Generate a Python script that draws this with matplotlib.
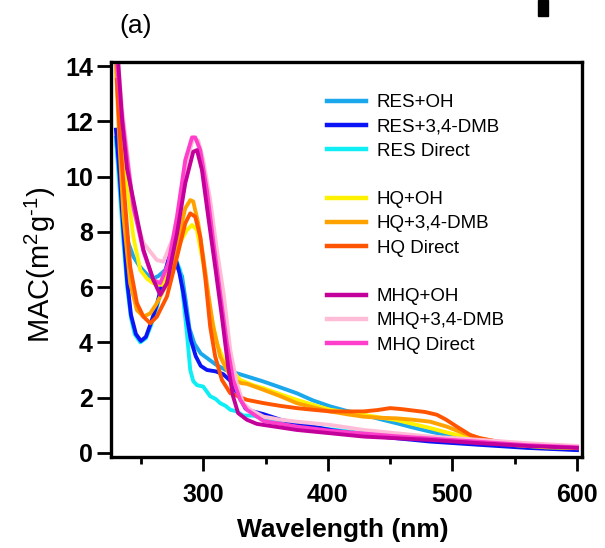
import matplotlib
matplotlib.use('Agg')
import matplotlib.pyplot as plt
from matplotlib.patches import Rectangle
from matplotlib.lines import Line2D

plt.rcParams['font.family'] = ['Liberation Sans', 'DejaVu Sans']
plt.rcParams['mathtext.fontset'] = 'custom'
plt.rcParams['mathtext.rm'] = 'Liberation Sans'
plt.rcParams['mathtext.it'] = 'Liberation Sans:italic'
plt.rcParams['mathtext.bf'] = 'Liberation Sans:bold'

labels = ['RES+OH', 'RES+3,4-DMB', 'RES Direct',
          'HQ+OH', 'HQ+3,4-DMB', 'HQ Direct',
          'MHQ+OH', 'MHQ+3,4-DMB', 'MHQ Direct']
colors = ['#1AA7EC', '#0A14F5', '#10EEF5',
          '#FFF200', '#FFA200', '#FF5500',
          '#C4009B', '#FFBCD6', '#FF3FCB']

res_oh_x = [230, 233, 236, 240, 244, 249, 254, 259, 264, 269, 274, 279, 283, 286, 289, 293, 298, 304, 310, 318,
            327, 340, 348.5, 360, 375, 388, 402, 415, 428.6, 442, 455.4, 468, 482, 495, 509, 522, 536, 550, 575, 600]
res_oh_y = [11.4, 9.9, 8.7, 7.6, 7.1, 6.75, 6.5, 6.3, 6.4, 6.6, 6.85, 6.75, 6.4, 5.5, 4.5, 3.95, 3.6, 3.4, 3.2, 3.0,
            2.88, 2.7, 2.58, 2.4, 2.16, 1.9, 1.68, 1.52, 1.38, 1.22, 1.07, 0.92, 0.77, 0.65, 0.53, 0.41, 0.32, 0.25, 0.18, 0.15]

res_dmb_x = [230, 233, 236, 239, 242, 246, 250, 254, 258, 263, 268, 272, 275, 278, 281, 284, 287, 290, 294, 298,
             303, 310, 316, 322, 328, 334, 340, 348.5, 362, 375, 388, 402, 415, 428.6, 455, 482, 522, 560, 600]
res_dmb_y = [11.7, 10.0, 8.0, 6.2, 5.0, 4.3, 4.05, 4.2, 4.7, 5.4, 6.3, 7.0, 7.35, 7.0, 6.5, 5.8, 4.9, 4.1, 3.5, 3.15,
             3.0, 2.95, 2.85, 2.6, 2.1, 1.6, 1.5, 1.4, 1.2, 1.07, 0.95, 0.83, 0.74, 0.65, 0.53, 0.41, 0.29, 0.18, 0.1]

res_dir_x = [230, 233, 236, 239, 242, 245, 249.5, 254, 258, 263, 268, 272, 275, 278, 281.6, 284, 287, 289.6, 292, 295,
             300, 305.6, 310, 313.6, 318, 321.7, 327, 332, 340, 348.5, 362, 375, 402, 428, 455, 482, 500, 522, 560, 600]
res_dir_y = [11.4, 9.5, 7.6, 6.0, 4.9, 4.3, 4.0, 4.15, 4.6, 5.3, 6.2, 6.9, 7.25, 7.0, 6.6, 5.6, 4.3, 3.0, 2.6, 2.45,
             2.4, 2.05, 1.95, 1.8, 1.7, 1.56, 1.5, 1.35, 1.35, 1.25, 1.1, 1.01, 0.85, 0.72, 0.62, 0.55, 0.5, 0.35, 0.2, 0.12]

hq_oh_x = [230.7, 234, 238.8, 244, 249.5, 255, 260, 266.8, 273, 279, 283, 287, 291, 295, 300, 305.6, 311, 316.3, 321.7,
           329.7, 340, 348.5, 362, 375, 388, 402, 415, 428.6, 442, 455, 468, 482, 492, 503.5, 512, 522, 550, 575, 600]
hq_oh_y = [14.0, 11.6, 9.76, 7.8, 6.62, 6.3, 6.14, 6.08, 6.6, 7.35, 7.75, 8.07, 8.25, 8.07, 6.86, 5.17, 3.97, 3.37, 3.06,
           2.64, 2.45, 2.34, 2.12, 1.92, 1.74, 1.56, 1.47, 1.38, 1.28, 1.19, 1.05, 0.9, 0.78, 0.65, 0.55, 0.47, 0.28, 0.2, 0.17]

hq_dmb_x = [230, 233, 236, 241.4, 246.8, 252, 257.5, 262.8, 270.9, 279, 285.6, 289.6, 292, 296, 300, 304, 308, 313.6,
            319, 324, 331, 335, 348.5, 362, 375, 388, 402, 415, 428.6, 442, 455, 468, 482, 495.5, 509, 522, 536, 550, 575, 600]
hq_dmb_y = [14.0, 11.0, 8.55, 6.14, 5.17, 4.93, 5.05, 5.42, 6.14, 7.59, 8.85, 9.15, 9.1, 8.31, 7.1, 5.78, 4.57, 3.49,
            3.0, 2.64, 2.52, 2.5, 2.28, 2.05, 1.8, 1.65, 1.5, 1.4, 1.31, 1.27, 1.25, 1.2, 1.13, 0.95, 0.71, 0.53, 0.4, 0.33, 0.24, 0.18]

hq_dir_x = [230.7, 233, 236, 241.4, 246.8, 252, 257.5, 262.8, 270.9, 279, 285.6, 289.6, 293.6, 297.6, 301.6, 305.6, 309.6,
            315, 321.7, 335, 348.5, 362, 375, 388, 402, 415, 428.6, 440, 450, 460, 468.8, 478, 487.5, 495, 503.5, 514.2,
            522, 535, 550, 575, 600]
hq_dir_y = [13.5, 11.6, 9.76, 6.74, 5.42, 4.93, 4.69, 4.93, 5.66, 7.1, 8.31, 8.67, 8.55, 7.83, 6.38, 4.57, 3.49,
            2.64, 2.16, 1.92, 1.8, 1.7, 1.62, 1.56, 1.5, 1.5, 1.5, 1.55, 1.62, 1.58, 1.53, 1.48, 1.38, 1.2, 0.95, 0.65,
            0.53, 0.42, 0.33, 0.25, 0.2]

mhq_oh_x = [232, 235, 238.8, 244, 252, 260, 265.5, 270.9, 279, 285.6, 292, 295, 299, 304, 309.6, 315, 320, 324, 328,
            335, 343, 348.5, 362, 375, 402, 428.6, 455, 482, 522, 560, 600]
mhq_oh_y = [14.0, 12.0, 10.3, 9.15, 7.35, 6.26, 5.72, 6.14, 7.95, 9.76, 10.9, 10.96, 10.24, 8.56, 6.74, 4.93, 3.12, 2.04,
            1.44, 1.2, 1.05, 1.01, 0.92, 0.83, 0.71, 0.59, 0.53, 0.47, 0.35, 0.25, 0.18]

mhq_dmb_x = [232, 235, 238.8, 244, 252, 262.8, 268, 276, 281.6, 287, 292, 296, 300, 305.6, 311, 316.3, 321.7, 327, 332,
             337.7, 348.5, 362, 375, 402, 428.6, 455, 482, 522, 560, 600]
mhq_dmb_y = [14.0, 12.4, 10.96, 8.8, 7.6, 6.98, 6.92, 7.8, 9.2, 10.6, 11.4, 11.3, 10.6, 9.15, 7.35, 5.78, 3.73, 2.52, 1.8,
             1.56, 1.31, 1.2, 1.13, 1.01, 0.83, 0.71, 0.59, 0.47, 0.35, 0.25]

mhq_dir_x = [231, 234, 238.8, 244, 252, 260, 265.5, 272, 279, 285.6, 291, 293.6, 297.6, 303, 308, 313.6, 319, 324, 329.7,
             335, 348.5, 362, 375, 402, 428.6, 455, 482, 522, 560, 600]
mhq_dir_y = [14.0, 12.5, 10.7, 8.9, 7.3, 6.26, 6.14, 6.86, 8.55, 10.6, 11.42, 11.42, 10.96, 9.5, 7.7, 5.78, 3.97, 2.64, 1.92,
             1.56, 1.15, 1.05, 0.95, 0.8, 0.7, 0.6, 0.52, 0.4, 0.28, 0.2]

series = [(res_oh_x, res_oh_y), (res_dmb_x, res_dmb_y), (res_dir_x, res_dir_y),
          (hq_oh_x, hq_oh_y), (hq_dmb_x, hq_dmb_y), (hq_dir_x, hq_dir_y),
          (mhq_oh_x, mhq_oh_y), (mhq_dmb_x, mhq_dmb_y), (mhq_dir_x, mhq_dir_y)]

x_major = [300, 400, 500, 600]
x_minor = [250, 350, 450, 550]
y_major = [0, 2, 4, 6, 8, 10, 12, 14]

W, H = 605, 548
fig = plt.figure(figsize=(W / 100, H / 100), dpi=100)
ax = fig.add_axes([111 / W, 1 - 457 / H, 471 / W, 395 / H])

draw_order = [0, 2, 1, 3, 4, 5, 7, 8, 6]
for i in draw_order:
    xs, ys = series[i]
    ax.plot(xs, ys, color=colors[i], lw=2.8, solid_joinstyle='round', label=labels[i])

ax.set_xlim(226, 604)
ax.set_ylim(-0.15, 14.15)
ax.set_xticks(x_major)
ax.set_xticks(x_minor, minor=True)
ax.set_yticks(y_major)
ax.tick_params(axis='both', which='major', direction='out', length=10, width=2,
               labelsize=18, top=False, right=False)
ax.tick_params(axis='x', which='major', pad=9)
ax.tick_params(axis='y', which='major', pad=3)
ax.tick_params(axis='x', which='minor', direction='out', length=5, width=2, top=False)
for lbl in ax.get_xticklabels() + ax.get_yticklabels():
    lbl.set_fontweight('bold')
for sp in ax.spines.values():
    sp.set_linewidth(2.4)

fig.text(40 / W, 1 - 265 / H, 'MAC(m$^{2}$g$^{\\text{-}1}$)', rotation=90, fontsize=21,
         ha='center', va='center')
fig.text(343 / W, 1 - 530 / H, 'Wavelength (nm)', fontsize=19, fontweight='bold',
         ha='center', va='center')
fig.text(136 / W, 1 - 26 / H, '(a)', fontsize=19, ha='center', va='center')
fig.patches.append(Rectangle((538 / W, 1 - 16 / H), 10 / W, 16 / H,
                             transform=fig.transFigure, color='black'))

spacer = Line2D([], [], color='none')
leg_handles = []
leg_labels = []
for g in range(3):
    for k in range(3):
        i = g * 3 + k
        leg_handles.append(Line2D([], [], color=colors[i], lw=3.2))
        leg_labels.append(labels[i])
    if g < 2:
        leg_handles.append(spacer)
        leg_labels.append('')
ax.legend(leg_handles, leg_labels, loc='upper left', bbox_to_anchor=((327 - 111) / 471, (457 - 94) / 395),
          frameon=False, fontsize=13.5, handlelength=2.1, handletextpad=0.55, labelspacing=0.38,
          borderpad=0, borderaxespad=0)

fig.savefig('out.png', dpi=100)
